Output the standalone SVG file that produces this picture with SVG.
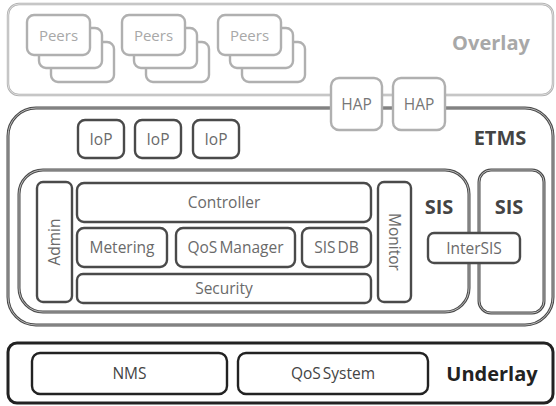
<svg xmlns="http://www.w3.org/2000/svg" width="556" height="406" viewBox="0 0 556 406">
<style>
.dk{fill:none;stroke:#4a4a4a;stroke-width:3}
.dki{fill:none;stroke:#d8d8d8;stroke-width:0.8}
.lt{fill:#fff;stroke:#b0b0b0;stroke-width:2.4}
.lti{fill:none;stroke:#f0f0f0;stroke-width:0.7}
.t{font-family:"Open Sans","Liberation Sans",sans-serif;font-size:15.5px;fill:#6a6a6a;text-anchor:middle}
.tl{font-family:"Open Sans","Liberation Sans",sans-serif;font-size:15px;fill:#a8a8a8;text-anchor:middle}
.b{font-family:"Open Sans","Liberation Sans",sans-serif;font-size:20px;font-weight:bold;fill:#444;text-anchor:middle}
</style>
<rect width="556" height="406" fill="#fff"/>
<g id="overlay">
<rect x="8" y="4" width="545" height="91" rx="11" class="lt"/>
<rect x="8" y="4" width="545" height="91" rx="11" class="lti"/>
<text x="491" y="50" class="b" style="fill:#a8a8a8">Overlay</text>
</g>
<g id="peers1">
<rect x="51" y="42" width="63" height="40" rx="7" class="lt"/>
<rect x="39" y="28" width="63" height="40" rx="7" class="lt"/>
<rect x="27" y="15" width="63" height="40" rx="7" class="lt"/>
<text x="58.5" y="41" class="tl">Peers</text>
</g>
<g id="peers2">
<rect x="146" y="42" width="63" height="40" rx="7" class="lt"/>
<rect x="134" y="28" width="63" height="40" rx="7" class="lt"/>
<rect x="122" y="15" width="63" height="40" rx="7" class="lt"/>
<text x="153.5" y="41" class="tl">Peers</text>
</g>
<g id="peers3">
<rect x="242" y="42" width="63" height="40" rx="7" class="lt"/>
<rect x="230" y="28" width="63" height="40" rx="7" class="lt"/>
<rect x="218" y="15" width="63" height="40" rx="7" class="lt"/>
<text x="249.5" y="41" class="tl">Peers</text>
</g>
<g id="etms">
<rect x="8" y="108" width="545" height="217" rx="28" class="dk"/>
<rect x="8" y="108" width="545" height="217" rx="28" class="dki"/>
<text x="500" y="145" class="b">ETMS</text>
</g>
<g id="connectors"></g>
<g id="hap1">
<rect x="331" y="78" width="51" height="52" rx="8" class="lt"/>
<text x="356.5" y="110" class="t" style="fill:#777">HAP</text>
</g>
<g id="hap2">
<rect x="393" y="78" width="52" height="52" rx="8" class="lt"/>
<text x="419" y="110" class="t" style="fill:#777">HAP</text>
</g>
<g id="iop1"><rect x="78" y="120" width="46" height="38" rx="7" class="dk" style="stroke-width:2.4"/><text x="101" y="145" class="t">IoP</text></g>
<g id="iop2"><rect x="135" y="120" width="46" height="38" rx="7" class="dk" style="stroke-width:2.4"/><text x="158" y="145" class="t">IoP</text></g>
<g id="iop3"><rect x="193" y="120" width="46" height="38" rx="7" class="dk" style="stroke-width:2.4"/><text x="216" y="145" class="t">IoP</text></g>
<g id="sis-left">
<rect x="19" y="170" width="450" height="142" rx="24" class="dk"/>
<rect x="19" y="170" width="450" height="142" rx="24" class="dki"/>
<text x="439" y="214" class="b">SIS</text>
</g>
<g id="sis-right">
<rect x="479" y="170" width="65" height="143" rx="12" class="dk"/>
<rect x="479" y="170" width="65" height="143" rx="12" class="dki"/>
<text x="509" y="214" class="b">SIS</text>
</g>
<g id="admin"><rect x="37" y="182" width="35" height="120" rx="6" class="dk" style="stroke-width:2.4"/><text transform="translate(60,242) rotate(-90)" class="t">Admin</text></g>
<g id="controller"><rect x="77" y="183" width="294" height="39" rx="7" class="dk" style="stroke-width:2.4"/><text x="224" y="208" class="t">Controller</text></g>
<g id="metering"><rect x="77" y="228" width="90" height="39" rx="7" class="dk" style="stroke-width:2.4"/><text x="122" y="253" class="t">Metering</text></g>
<g id="qosmanager"><rect x="176" y="228" width="119" height="39" rx="7" class="dk" style="stroke-width:2.4"/><text x="235.5" y="253" class="t" style="word-spacing:-2px">QoS Manager</text></g>
<g id="sisdb"><rect x="302" y="228" width="69" height="39" rx="7" class="dk" style="stroke-width:2.4"/><text x="336.5" y="253" class="t" style="word-spacing:-2px">SIS DB</text></g>
<g id="security"><rect x="77" y="274" width="294" height="29" rx="6" class="dk" style="stroke-width:2.4"/><text x="224" y="294" class="t">Security</text></g>
<g id="monitor"><rect x="378" y="182" width="33" height="120" rx="6" class="dk" style="stroke-width:2.4"/><text transform="translate(389,242) rotate(90)" class="t">Monitor</text></g>
<g id="intersis"><rect x="428" y="233" width="92" height="30" rx="6" class="dk" style="fill:#fff;stroke-width:2.4"/><text x="474" y="254" class="t">InterSIS</text></g>
<g id="underlay">
<rect x="8" y="343" width="545" height="60" rx="9" class="dk" style="stroke:#222"/>
<text x="492" y="381" class="b" style="fill:#222">Underlay</text>
</g>
<g id="nms"><rect x="32" y="353" width="195" height="41" rx="8" class="dk" style="stroke:#222;stroke-width:2.4"/><text x="129.5" y="379" class="t" style="fill:#444">NMS</text></g>
<g id="qossystem"><rect x="238" y="353" width="190" height="41" rx="8" class="dk" style="stroke:#222;stroke-width:2.4"/><text x="333" y="379" class="t" style="fill:#444;word-spacing:-2px">QoS System</text></g>
</svg>
